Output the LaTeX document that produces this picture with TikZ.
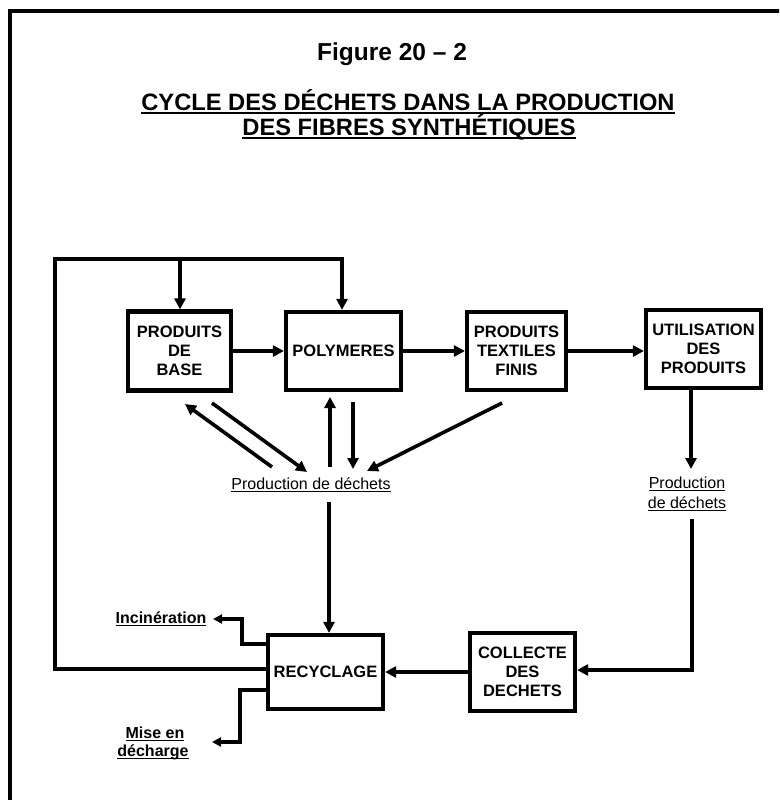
\documentclass[tikz,border=0pt]{standalone}
\usepackage{fontspec}
\setmainfont{Liberation Sans}
\usetikzlibrary{arrows.meta}
\newcommand\ulx[3]{\setbox0\hbox{#3}\rlap{\rule[-#1]{\wd0}{#2}}\box0}
\begin{document}
\begin{tikzpicture}[x=1pt,y=-1pt,
  box/.style={draw, line width=4.2pt, align=center, inner sep=0pt,
    font=\bfseries\fontsize{16.5}{19}\selectfont},
  conn/.style={line width=3.6pt, -{Triangle[length=11pt,width=11pt]}},
  sconn/.style={line width=3.6pt, -{Triangle[length=9pt,width=9pt]}},
  plain/.style={line width=4pt},
  lbl/.style={align=center, inner sep=0pt, anchor=base}]
\useasboundingbox (0,0) rectangle (779,800);
\clip (0,0) rectangle (779,800);
\fill[white] (0,0) rectangle (779,800);
% frame
\coordinate (frBL) at (10,830);
\coordinate (frTL) at (10,11);
\coordinate (frTR) at (820,11);
\draw[line width=4pt] (frBL) -- (frTL) -- (frTR);
% titles
\node[lbl, font=\bfseries\fontsize{24.5}{28}\selectfont] (fig) at (392,60) {Figure 20 – 2};
\node[lbl, font=\bfseries\fontsize{23.7}{26}\selectfont] (t1) at (408,110) {\ulx{4pt}{2.5pt}{CYCLE DES DÉCHETS DANS LA PRODUCTION}};
\node[lbl, font=\bfseries\fontsize{23.7}{26}\selectfont] (t2) at (409,135) {\ulx{4pt}{2.5pt}{DES FIBRES SYNTHÉTIQUES}};
% boxes
\node[box, minimum width=103pt, minimum height=79pt] (base) at (179.5,351) {PRODUITS\\DE\\BASE};
\node[box, minimum width=115pt, minimum height=78pt] (poly) at (343.5,351) {POLYMERES};
\node[box, minimum width=99pt, minimum height=78pt] (text) at (516.5,351) {PRODUITS\\TEXTILES\\FINIS};
\node[box, minimum width=115pt, minimum height=78pt] (util) at (703.5,349) {UTILISATION\\DES\\PRODUITS};
\node[box, minimum width=115pt, minimum height=74pt] (recyc) at (325.5,672) {RECYCLAGE};
\node[box, minimum width=105pt, minimum height=78pt] (coll) at (522.5,672) {COLLECTE\\DES\\DECHETS};
% labels
\node[lbl, font=\fontsize{16}{20}\selectfont] (d1) at (311,489) {\ulx{3pt}{1.3pt}{Production de déchets}};
\node[lbl, font=\fontsize{16}{20}\selectfont] (d2a) at (687,488) {\ulx{3pt}{1.3pt}{Production}};
\node[lbl, font=\fontsize{16}{20}\selectfont] (d2b) at (687,508) {\ulx{3pt}{1.3pt}{de déchets}};
\node[lbl, font=\bfseries\fontsize{16}{20}\selectfont] (inc) at (161,623) {\ulx{3pt}{1.5pt}{Incinération}};
\node[lbl, font=\bfseries\fontsize{16}{20}\selectfont] (misea) at (155,738) {\ulx{3pt}{1.5pt}{Mise en}};
\node[lbl, font=\bfseries\fontsize{16}{20}\selectfont] (miseb) at (153,756) {\ulx{3pt}{1.5pt}{décharge}};
% feedback loop
\coordinate (fbL) at (55,669);
\coordinate (fbT) at (55,259);
\coordinate (fbR) at (342,259);
\coordinate (fbB) at (180,259);
\draw[plain] (recyc.west |- fbL) -- (fbL) -- (fbT) -- ([xshift=2pt]fbR);
\draw[conn] (fbR) -- (fbR |- poly.north);
\draw[conn] (fbB) -- (fbB |- base.north);
% main chain
\draw[conn] (base.east) -- (poly.west);
\draw[conn] (poly.east) -- (text.west);
\draw[conn] (text.east) -- (util.west |- text.east);
% waste arrows
\coordinate (a1s) at (272,467); \coordinate (a1e) at (185,404);
\coordinate (a2s) at (212,403); \coordinate (a2e) at (307,472);
\coordinate (a3s) at (330,467); \coordinate (a3e) at (330,397);
\coordinate (a4s) at (353,402); \coordinate (a4e) at (353,469);
\coordinate (a5s) at (502,403); \coordinate (a5e) at (367,471);
\draw[conn] (a1s) -- (a1e);
\draw[conn] (a2s) -- (a2e);
\draw[conn] (a3s) -- (a3e);
\draw[conn] (a4s) -- (a4e);
\draw[conn] (a5s) -- (a5e);
\coordinate (d1b) at (329,502);
\draw[conn] (d1b) -- (d1b |- recyc.north);
\coordinate (u1) at (691,469);
\draw[conn] (util.south -| u1) -- (u1);
\coordinate (d2s) at (692,519);
\coordinate (d2c) at (692,670);
\draw[conn] (d2s) -- (d2c) -- (coll.east |- d2c);
\draw[conn] (coll.west) -- (recyc.east);
% outputs of recycling
\coordinate (i0) at (0,644); \coordinate (i1) at (242,644);
\coordinate (i2) at (242,619); \coordinate (i3) at (213,619);
\draw[sconn] (recyc.west |- i0) -- (i1) -- (i2) -- (i3);
\coordinate (m0) at (0,690); \coordinate (m1) at (240,690);
\coordinate (m2) at (240,742); \coordinate (m3) at (212,742);
\draw[sconn] (recyc.west |- m0) -- (m1) -- (m2) -- (m3);
\end{tikzpicture}
\end{document}
